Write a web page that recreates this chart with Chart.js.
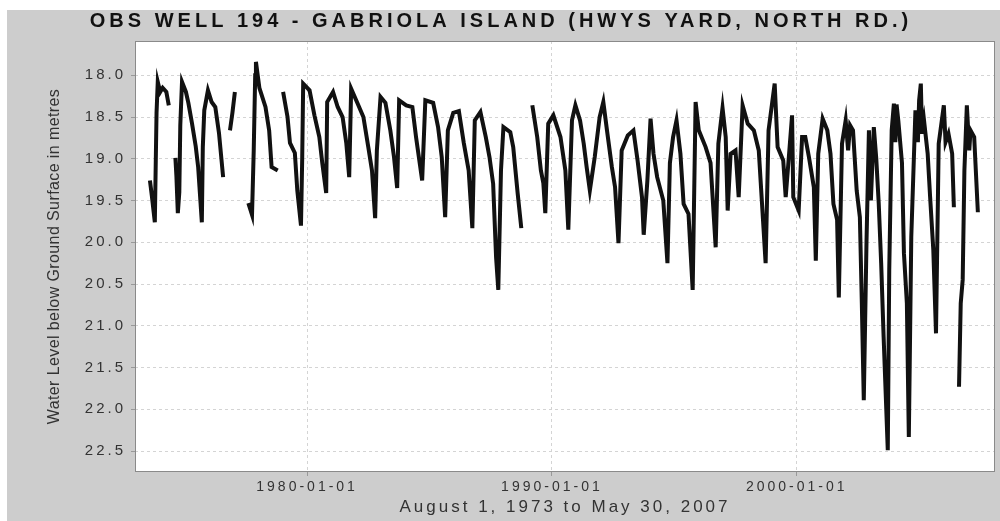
<!DOCTYPE html>
<html>
<head>
<meta charset="utf-8">
<script src="https://cdn.jsdelivr.net/npm/chart.js@4.4.0/dist/chart.umd.min.js"></script>
<style>
  html, body { margin: 0; padding: 0; background: #fff; }
  canvas { display: block; }
</style>
</head>
<body>
<canvas id="wellChart" width="1000" height="521"></canvas>
<script>
// readings, decimal year -> metres below ground (null = no record)
const years = [
  1973.58, 1973.66, 1973.78, 1973.82, 1973.85, 1973.90, 1974.00, 1974.10, 1974.25, 1974.35,
  1974.50,
  1974.62, 1974.66, 1974.72, 1974.78, 1974.82, 1974.89, 1975.05, 1975.15, 1975.30, 1975.45,
  1975.55, 1975.70, 1975.74, 1975.80, 1975.95, 1976.10, 1976.25, 1976.40, 1976.57,
  1976.70,
  1976.85, 1976.95, 1977.05,
  1977.30,
  1977.60, 1977.75, 1977.82, 1977.88, 1977.91, 1978.05, 1978.30, 1978.45, 1978.55, 1978.80,
  1978.90,
  1979.02, 1979.20, 1979.30, 1979.50, 1979.60, 1979.75, 1979.80, 1979.84, 1980.10, 1980.30,
  1980.50, 1980.62, 1980.78, 1980.82, 1981.06, 1981.25, 1981.45, 1981.60, 1981.72, 1981.80,
  1982.05, 1982.30, 1982.50, 1982.65, 1982.78, 1982.85, 1983.00, 1983.20, 1983.40, 1983.55,
  1983.68, 1983.76, 1984.05, 1984.30, 1984.45, 1984.70, 1984.83, 1985.15, 1985.35, 1985.50,
  1985.64, 1985.75, 1985.97, 1986.20, 1986.40, 1986.60, 1986.75, 1986.85, 1987.08, 1987.30,
  1987.45, 1987.60, 1987.72, 1987.81, 1987.92, 1988.02, 1988.30, 1988.42, 1988.60, 1988.75,
  1989.00,
  1989.20, 1989.40, 1989.55, 1989.65, 1989.73, 1989.85, 1990.06, 1990.35, 1990.55, 1990.67,
  1990.82, 1990.96, 1991.15, 1991.30, 1991.42, 1991.55, 1991.75, 1991.95, 1992.10, 1992.25,
  1992.45, 1992.58, 1992.72, 1992.85, 1993.10, 1993.33, 1993.50, 1993.68, 1993.75, 1993.90,
  1994.03, 1994.15, 1994.30, 1994.55, 1994.72, 1994.82, 1994.95, 1995.09, 1995.25, 1995.38,
  1995.58, 1995.75, 1995.87, 1996.00, 1996.28, 1996.48, 1996.69, 1996.80, 1996.97, 1997.10,
  1997.18, 1997.30, 1997.50, 1997.63, 1997.79, 1998.00, 1998.25, 1998.45, 1998.65, 1998.73,
  1998.85, 1999.10, 1999.22, 1999.45, 1999.55, 1999.70, 1999.81, 1999.86, 2000.08, 2000.22,
  2000.35, 2000.50, 2000.70, 2000.78, 2000.88, 2001.06, 2001.25, 2001.38, 2001.50, 2001.65,
  2001.72, 2001.85, 2002.00, 2002.10, 2002.18, 2002.30, 2002.45, 2002.58, 2002.66, 2002.74,
  2002.85, 2002.95, 2003.03, 2003.15, 2003.25, 2003.35, 2003.45, 2003.55, 2003.72, 2003.78,
  2003.88, 2003.97, 2004.03, 2004.08, 2004.15, 2004.30, 2004.38, 2004.50, 2004.58, 2004.68,
  2004.85, 2004.95, 2005.00, 2005.07, 2005.12, 2005.20, 2005.35, 2005.45, 2005.58, 2005.69,
  2005.80, 2006.01, 2006.08, 2006.20, 2006.35, 2006.42,
  2006.52,
  2006.63, 2006.70, 2006.78, 2006.85, 2006.95, 2007.05, 2007.10, 2007.25, 2007.40
];
const levels = [
  19.26, 19.45, 19.76, 19.00, 18.45, 18.08, 18.20, 18.15, 18.20, 18.36,
  null,
  18.99, 19.20, 19.65, 19.40, 18.60, 18.08, 18.20, 18.33, 18.58, 18.85,
  19.10, 19.76, 18.86, 18.42, 18.18, 18.32, 18.38, 18.69, 19.22,
  null,
  18.66, 18.45, 18.20,
  null,
  19.53, 19.67, 18.90, 18.00, 17.84, 18.15, 18.38, 18.66, 19.10, 19.14,
  null,
  18.20, 18.50, 18.81, 18.93, 19.38, 19.80, 19.00, 18.10, 18.18, 18.48,
  18.74, 19.05, 19.41, 18.32, 18.20, 18.38, 18.50, 18.81, 19.22, 18.16,
  18.33, 18.50, 18.86, 19.14, 19.71, 18.90, 18.26, 18.33, 18.66, 18.98,
  19.35, 18.30, 18.36, 18.38, 18.74, 19.26, 18.30, 18.33, 18.62, 18.98,
  19.70, 18.66, 18.45, 18.43, 18.81, 19.14, 19.83, 18.54, 18.44, 18.74,
  18.98, 19.30, 20.18, 20.57, 19.14, 18.62, 18.68, 18.86, 19.41, 19.83,
  null,
  18.36, 18.74, 19.14, 19.29, 19.65, 18.58, 18.48, 18.74, 19.14, 19.85,
  18.54, 18.36, 18.54, 18.82, 19.10, 19.38, 18.98, 18.50, 18.32, 18.66,
  19.10, 19.34, 20.01, 18.90, 18.72, 18.66, 19.02, 19.46, 19.91, 19.26,
  18.52, 18.94, 19.22, 19.50, 20.25, 19.05, 18.74, 18.54, 18.94, 19.54,
  19.66, 20.57, 18.32, 18.66, 18.86, 19.05, 20.06, 18.82, 18.39, 18.74,
  19.62, 18.94, 18.90, 19.46, 18.36, 18.58, 18.66, 18.90, 19.86, 20.25,
  18.66, 18.10, 18.86, 19.02, 19.46, 18.90, 18.48, 19.46, 19.62, 18.74,
  18.74, 18.98, 19.34, 20.22, 18.94, 18.52, 18.66, 18.94, 19.54, 19.73,
  20.66, 18.82, 18.54, 18.90, 18.60, 18.66, 19.38, 19.70, 20.73, 21.89,
  20.01, 18.66, 19.50, 18.62, 19.00, 19.53, 20.25, 21.13, 22.49, 20.33,
  18.66, 18.34, 18.80, 18.35, 18.54, 19.05, 20.13, 20.73, 22.33, 19.94,
  18.42, 18.80, 18.30, 18.10, 18.70, 18.54, 18.94, 19.46, 20.09, 21.09,
  18.82, 18.36, 18.80, 18.70, 18.94, 19.58,
  null,
  21.73, 20.73, 20.45, 19.14, 18.36, 18.90, 18.66, 18.74, 19.64
];

const xTicks = [1980, 1990, 2000];
const yTicks = [18.0, 18.5, 19.0, 19.5, 20.0, 20.5, 21.0, 21.5, 22.0, 22.5];

const points = years.map((yr, i) => ({ x: yr, y: levels[i] }));

// canvas letterSpacing per text element (the source image is wide-set)
function spaced(obj, method, px) {
  if (!obj || obj['_sp_' + method]) return;
  const orig = obj[method];
  obj[method] = function (...args) {
    const ctx = this.ctx, prev = ctx.letterSpacing;
    ctx.letterSpacing = px;
    orig.apply(this, args);
    ctx.letterSpacing = prev;
  };
  obj['_sp_' + method] = true;
}

const backdrop = {
  id: 'backdrop',
  beforeDraw(chart) {
    const { ctx, chartArea: a } = chart;
    ctx.save();
    ctx.fillStyle = '#fff';
    ctx.fillRect(0, 0, chart.width, chart.height);
    ctx.fillStyle = '#cdcdcd';
    ctx.fillRect(7, 10, chart.width - 7, chart.height - 10);
    ctx.fillStyle = '#fff';
    ctx.fillRect(a.left, a.top, a.right - a.left, a.bottom - a.top);
    ctx.restore();

    spaced(chart.titleBlock, 'draw', '4px');
    spaced(chart.scales.x, 'drawLabels', '3px');
    spaced(chart.scales.y, 'drawLabels', '3px');
    spaced(chart.scales.x, 'drawTitle', '3px');
    spaced(chart.scales.y, 'drawTitle', '0.4px');
  },
  beforeDatasetsDraw(chart) {
    const { ctx, chartArea: a } = chart;
    ctx.save();
    ctx.strokeStyle = '#8a8a8a';
    ctx.lineWidth = 1;
    ctx.strokeRect(a.left + 0.5, a.top + 0.5, a.right - a.left - 1, a.bottom - a.top - 1);
    ctx.restore();
  }
};

new Chart(document.getElementById('wellChart'), {
  type: 'line',
  data: {
    datasets: [{
      label: 'Water level',
      data: points,
      borderColor: '#111',
      borderWidth: 4,
      pointRadius: 0,
      tension: 0,
      spanGaps: false
    }]
  },
  plugins: [backdrop],
  options: {
    responsive: false,
    animation: false,
    devicePixelRatio: 1,
    layout: { padding: { left: 7, top: 10, right: 5, bottom: 0 } },
    plugins: {
      legend: { display: false },
      tooltip: { enabled: false },
      title: {
        display: true,
        text: 'OBS WELL 194 - GABRIOLA ISLAND (HWYS YARD, NORTH RD.)',
        color: '#111',
        font: { family: 'Liberation Sans, Arial, sans-serif', size: 20, weight: 'bold', lineHeight: 1.1 },
        padding: { top: 0, bottom: 9 }
      }
    },
    scales: {
      x: {
        type: 'linear',
        min: 1972.97,
        max: 2008.1,
        afterBuildTicks: s => { s.ticks = xTicks.map(v => ({ value: v })); },
        afterFit: s => { s.height = 49; },
        ticks: {
          autoSkip: false,
          maxRotation: 0,
          padding: 3,
          color: '#333',
          font: { family: 'Liberation Sans, Arial, sans-serif', size: 14 },
          callback: v => v + '-01-01'
        },
        grid: { color: '#d4d4d4', tickColor: '#999', tickLength: 4 },
        border: { display: false, dash: [3, 3] },
        title: {
          display: true,
          text: 'August 1, 1973 to May 30, 2007',
          color: '#333',
          font: { family: 'Liberation Sans, Arial, sans-serif', size: 17 },
          padding: { top: 0, bottom: 3 }
        }
      },
      y: {
        type: 'linear',
        reverse: true,
        min: 17.59,
        max: 22.75,
        afterBuildTicks: s => { s.ticks = yTicks.map(v => ({ value: v })); },
        afterFit: s => { s.width = 128; },
        ticks: {
          padding: 5,
          color: '#333',
          font: { family: 'Liberation Sans, Arial, sans-serif', size: 15 },
          callback: v => Number(v).toFixed(1)
        },
        grid: { color: '#d4d4d4', tickColor: '#999', tickLength: 4 },
        border: { display: false, dash: [3, 3] },
        title: {
          display: true,
          text: 'Water Level below Ground Surface in metres',
          color: '#333',
          font: { family: 'Liberation Sans, Arial, sans-serif', size: 16 },
          padding: { top: 38, bottom: 0 }
        }
      }
    }
  }
});
</script>
</body>
</html>
